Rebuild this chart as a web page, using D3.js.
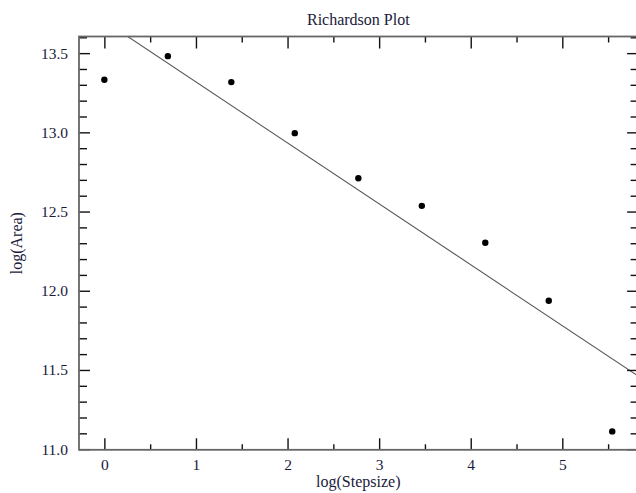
<!DOCTYPE html>
<html>
<head>
<meta charset="utf-8">
<script src="https://cdn.jsdelivr.net/npm/d3@7"></script>
<style>
  html, body { margin: 0; padding: 0; background: #fff; }
  svg { display: block; }
  text { font-family: "Liberation Serif", "Times New Roman", serif; fill: #1a1a3a; }
</style>
</head>
<body>
<svg id="chart" width="636" height="493"></svg>
<script>
// ---- data ----
const logStepsize = [0, 0.693, 1.386, 2.079, 2.773, 3.466, 4.159, 4.852, 5.545];
const logArea = [13.332, 13.481, 13.317, 12.995, 12.710, 12.536, 12.303, 11.937, 11.112];
const fitSlope = -0.3847;
const fitIntercept = 13.703;
const xTicks = [0, 1, 2, 3, 4, 5];
const xMinorTicks = [0.5, 1.5, 2.5, 3.5, 4.5, 5.5];
const yTicks = [11.0, 11.5, 12.0, 12.5, 13.0, 13.5];
const yMinorTicks = [11.1, 11.2, 11.3, 11.4, 11.6, 11.7, 11.8, 11.9, 12.1, 12.2, 12.3, 12.4,
                     12.6, 12.7, 12.8, 12.9, 13.1, 13.2, 13.3, 13.4, 13.6];
const titleText = "Richardson Plot";
const xLabel = "log(Stepsize)";
const yLabel = "log(Area)";

// ---- layout ----
const pLeft = 79, pRight = 637.6, pTop = 36.5, pBottom = 449.8;
const serif = '"Liberation Serif", "Times New Roman", serif';
const svg = d3.select("#chart");

const x = d3.scaleLinear().domain([-0.277, 5.822]).range([pLeft, pRight]);
const y = d3.scaleLinear().domain([10.996, 13.605]).range([pBottom, pTop]);

// clip
svg.append("defs").append("clipPath").attr("id", "plotclip")
  .append("rect").attr("x", pLeft).attr("y", pTop).attr("width", pRight - pLeft).attr("height", pBottom - pTop);

// fit line
const xd = x.domain();
svg.append("line")
  .attr("clip-path", "url(#plotclip)")
  .attr("x1", x(xd[0])).attr("y1", y(fitIntercept + fitSlope * xd[0]))
  .attr("x2", x(xd[1])).attr("y2", y(fitIntercept + fitSlope * xd[1]))
  .attr("stroke", "#555").attr("stroke-width", 1.1);

// points
svg.append("g").selectAll("circle")
  .data(logStepsize.map((d, i) => [d, logArea[i]]))
  .join("circle")
  .attr("cx", d => x(d[0])).attr("cy", d => y(d[1]))
  .attr("r", 3.2).attr("fill", "#000");

// axes helper
function styleAxis(g) {
  g.attr("font-family", serif).attr("font-size", 15.5);
  g.select(".domain").remove();
  g.selectAll(".tick line").attr("stroke", "#111").attr("stroke-width", 1.4);
  g.selectAll(".tick text").attr("fill", "#1a1a3a");
}

// bottom
svg.append("g").attr("transform", `translate(0,${pBottom})`)
  .call(d3.axisBottom(x).tickValues(xTicks).tickSize(-11.5).tickPadding(9).tickFormat(d3.format("d")))
  .call(styleAxis);
svg.append("g").attr("transform", `translate(0,${pBottom})`)
  .call(d3.axisBottom(x).tickValues(xMinorTicks).tickSize(-5.5).tickFormat(""))
  .call(styleAxis);
// top
svg.append("g").attr("transform", `translate(0,${pTop})`)
  .call(d3.axisTop(x).tickValues(xTicks).tickSize(-12).tickFormat(""))
  .call(styleAxis);
svg.append("g").attr("transform", `translate(0,${pTop})`)
  .call(d3.axisTop(x).tickValues(xMinorTicks).tickSize(-6).tickFormat(""))
  .call(styleAxis);
// left
svg.append("g").attr("transform", `translate(${pLeft},0)`)
  .call(d3.axisLeft(y).tickValues(yTicks).tickSize(-11).tickPadding(11).tickFormat(d3.format(".1f")))
  .call(styleAxis);
svg.append("g").attr("transform", `translate(${pLeft},0)`)
  .call(d3.axisLeft(y).tickValues(yMinorTicks).tickSize(-8).tickFormat(""))
  .call(styleAxis);
// right
svg.append("g").attr("transform", `translate(${pRight},0)`)
  .call(d3.axisRight(y).tickValues(yTicks).tickSize(-10.5).tickFormat(""))
  .call(styleAxis);
svg.append("g").attr("transform", `translate(${pRight},0)`)
  .call(d3.axisRight(y).tickValues(yMinorTicks).tickSize(-7).tickFormat(""))
  .call(styleAxis);

// frame
svg.append("rect").attr("x", pLeft).attr("y", pTop).attr("width", pRight - pLeft).attr("height", pBottom - pTop)
  .attr("fill", "none").attr("stroke", "#666").attr("stroke-width", 1.8);

// labels
const cx = (pLeft + pRight) / 2;
svg.append("text").attr("x", cx).attr("y", 24.5).attr("text-anchor", "middle")
  .style("font-size", "16px").text(titleText);
svg.append("text").attr("x", cx).attr("y", 487).attr("text-anchor", "middle")
  .style("font-size", "16px").text(xLabel);
svg.append("text").attr("transform", `translate(21.5,${(pTop + pBottom) / 2}) rotate(-90)`)
  .attr("text-anchor", "middle").style("font-size", "16px").text(yLabel);
</script>
</body>
</html>
